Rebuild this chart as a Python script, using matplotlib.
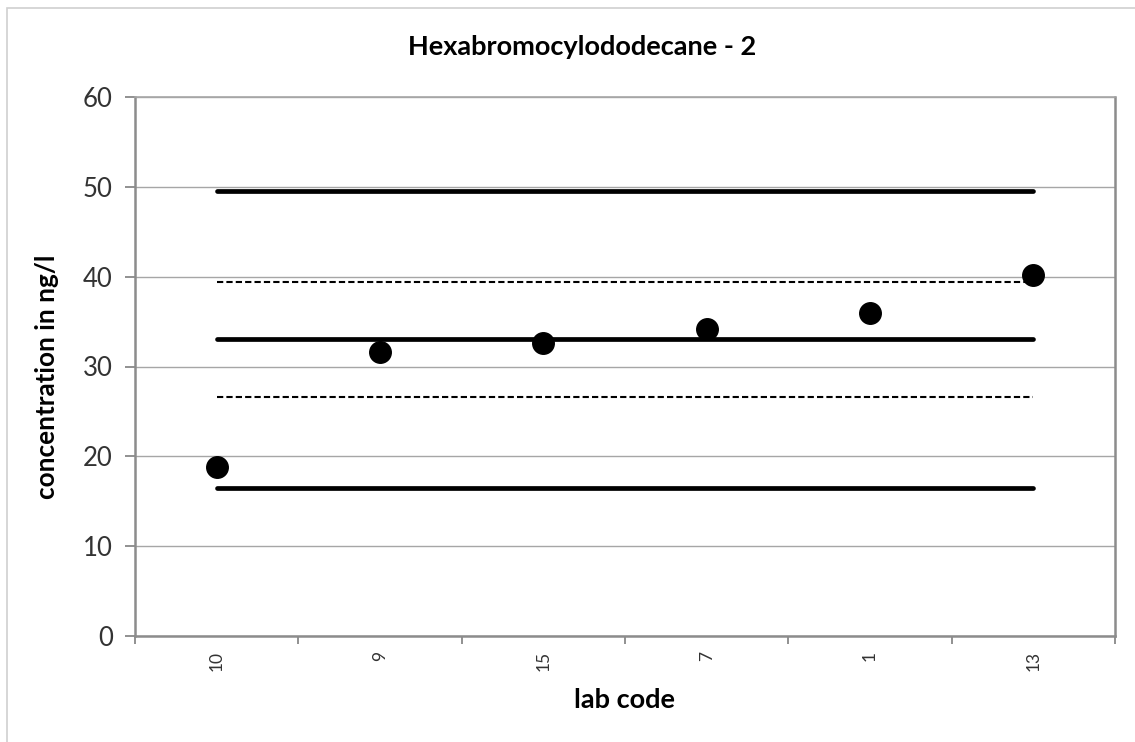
import matplotlib
matplotlib.use("Agg")
import matplotlib.pyplot as plt
from matplotlib.patches import Rectangle

plt.rcParams['font.family'] = ['Lato', 'DejaVu Sans']

labs = ["10", "9", "15", "7", "1", "13"]
values = [18.8, 31.6, 32.6, 34.2, 36.0, 40.2]
mean_val = 33.1
upper_limit = 49.5
lower_limit = 16.5
upper_dash = 39.4
lower_dash = 26.6

W, H = 1135, 742
fig = plt.figure(figsize=(W / 100, H / 100), dpi=100)
fig.patches.append(Rectangle((7 / W, -0.1), 1.2, (H - 8) / H + 0.1, transform=fig.transFigure,
                             fill=False, edgecolor='#d0d0d0', linewidth=1.2))

ax = fig.add_axes([135 / W, 1 - 636 / H, (1115 - 135) / W, (636 - 97) / H])
x = list(range(len(labs)))

for v in (upper_limit, mean_val, lower_limit):
    ax.plot([x[0], x[-1]], [v] * 2, color='black', lw=3.4, solid_capstyle='round', zorder=3)
for v in (upper_dash, lower_dash):
    ax.plot([x[0], x[-1]], [v] * 2, color='black', lw=1.5, ls=(0, (3, 1.5)), zorder=3)
ax.plot(x, values, 'o', color='black', markersize=15.5, zorder=4)

ax.set_xlim(-0.5, len(labs) - 0.5)
ax.set_ylim(0, 60)
ax.set_yticks(range(0, 61, 10))
ax.yaxis.grid(True, color='#a6a6a6', lw=1)
ax.set_axisbelow(True)

ax.set_xticks(x)
ax.set_xticklabels(labs, rotation=90, fontsize=12.5, color='#333333')
ax.tick_params(axis='x', which='major', length=0, pad=11)
ax.set_xticks([i - 0.5 for i in range(len(labs) + 1)], minor=True)
ax.tick_params(axis='x', which='minor', length=6, color='#888888', width=1.3)
ax.tick_params(axis='y', length=7, color='#888888', width=1.3, labelsize=18.5, labelcolor='#333333', pad=9)

for s in ax.spines.values():
    s.set_color('#8c8c8c')
    s.set_linewidth(1.8)
ax.spines['top'].set_color('#a6a6a6')
ax.spines['top'].set_linewidth(1.2)

fig.text(582 / W, 1 - 47 / H, "Hexabromocylododecane - 2", fontsize=19.5, fontweight='bold',
         ha='center', va='center')
fig.text(47 / W, 1 - 377 / H, "concentration in ng/l", fontsize=18.8, fontweight='bold',
         ha='center', va='center', rotation=90)
fig.text(625 / W, 1 - 700 / H, "lab code", fontsize=19.5, fontweight='bold',
         ha='center', va='center')

fig.savefig("out.png", dpi=100)
